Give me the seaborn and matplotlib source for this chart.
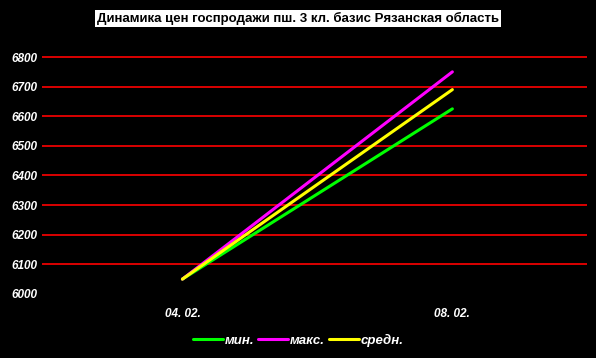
import matplotlib
matplotlib.use("Agg")
import matplotlib.pyplot as plt
import seaborn as sns
import pandas as pd

dates = ["04. 02.", "08. 02."]
series_names = ["мин.", "макс.", "средн."]
min_vals = [6050, 6625]
max_vals = [6050, 6750]
avg_vals = [6050, 6690]
y_ticks = [6000, 6100, 6200, 6300, 6400, 6500, 6600, 6700, 6800]
colors = ["#00ff00", "#ff00ff", "#ffff00"]
title = "Динамика цен госпродажи пш. 3 кл. базис Рязанская область"

rows = []
for name, vals in zip(series_names, [min_vals, max_vals, avg_vals]):
    for i, (d, v) in enumerate(zip(dates, vals)):
        rows.append({"pos": i, "date": d, "series": name, "value": v})
df = pd.DataFrame(rows)

sns.set_theme(style="dark")
plt.rcParams['font.family'] = ['Liberation Sans', 'DejaVu Sans']

fig = plt.figure(figsize=(5.96, 3.58), dpi=100, facecolor="black")
ax = fig.add_axes([0.0705, 0.179, 0.915, 0.665])
ax.set_facecolor("black")

sns.lineplot(data=df, x="pos", y="value", hue="series", hue_order=series_names,
             palette=colors, linewidth=2.2, ax=ax, legend=True)

ax.set_xlim(-0.52, 1.5)
ax.set_ylim(6000, 6804)
ax.set_yticks(y_ticks)
ax.set_yticklabels([str(t) for t in y_ticks], color="white", fontsize=8.5,
                   fontweight="bold", fontstyle="italic")
ax.set_xticks(range(len(dates)))
ax.set_xticklabels(dates, color="white", fontsize=8.5, fontstyle="italic", fontweight="bold")
ax.tick_params(axis="y", length=0, pad=3)
ax.tick_params(axis="x", length=0, pad=10)
for t in y_ticks[1:]:
    ax.axhline(t, color="#ff0000", linewidth=1.2, zorder=0)
ax.grid(False)
for s in ax.spines.values():
    s.set_visible(False)
ax.set_xlabel("")
ax.set_ylabel("")

handles, labels = ax.get_legend_handles_labels()
ax.legend(handles, labels, loc="center", bbox_to_anchor=(0.5, 0.05),
          bbox_transform=fig.transFigure, ncol=3, frameon=False,
          handlelength=2.3, handletextpad=0.1, columnspacing=0.3,
          prop={"size": 9.5, "style": "italic", "weight": "bold"},
          labelcolor="white")

fig.text(0.5, 0.948, title, ha="center", va="center", color="black",
         fontsize=9.5, fontweight="bold",
         bbox=dict(facecolor="white", edgecolor="none", pad=1.5))

fig.savefig("out.png", dpi=100, facecolor="black")
